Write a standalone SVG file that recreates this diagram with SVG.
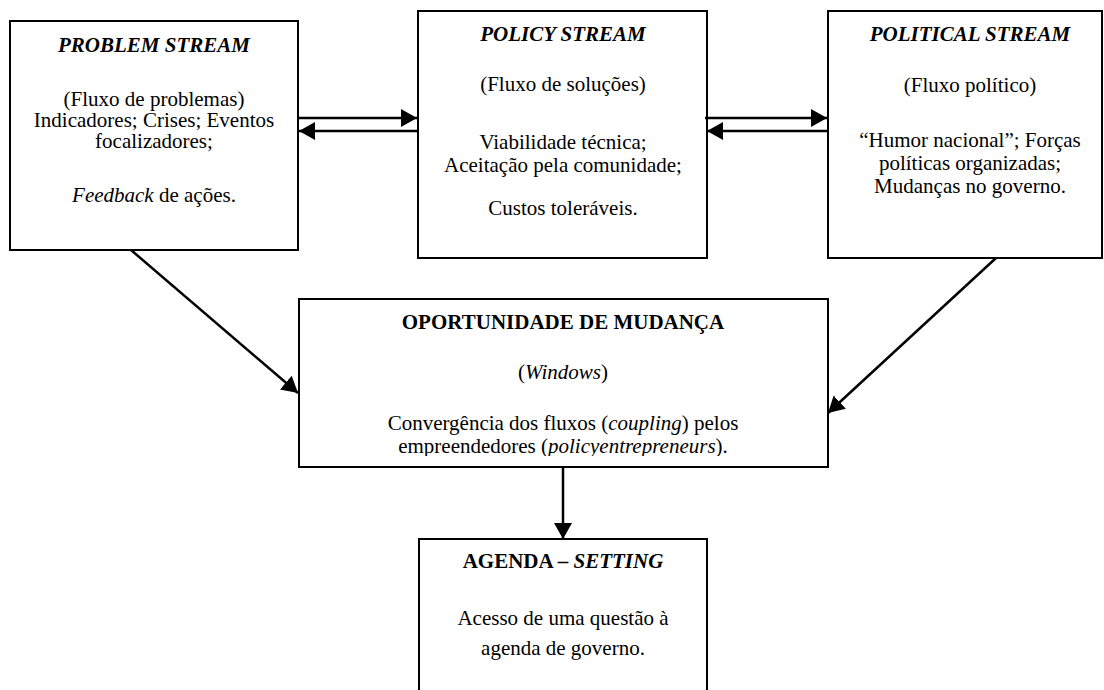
<svg xmlns="http://www.w3.org/2000/svg" width="1104" height="690" viewBox="0 0 1104 690">
<style>
.box{fill:#fff;stroke:#000;stroke-width:2}
.t{font-family:"Liberation Serif","Times New Roman",serif;font-size:21px;fill:#000;text-anchor:middle}
.b{font-weight:bold}
.i{font-style:italic}
.c{stroke:#000;stroke-width:2.5;fill:none;marker-end:url(#ah)}
</style>
<defs>
<marker id="ah" markerUnits="userSpaceOnUse" markerWidth="17" markerHeight="19" refX="16" refY="9" orient="auto">
<path d="M0,0 L16,9 L0,18 Z" fill="#000"/>
</marker>
<clipPath id="clipOpp"><rect x="299" y="299" width="529" height="157"/></clipPath>
</defs>
<rect width="1104" height="690" fill="#fff"/>
<g id="problem">
<rect class="box" x="10" y="21" width="288" height="229"/>
<text class="t b i" x="154" y="52">PROBLEM STREAM</text>
<text class="t" x="154" y="106">(Fluxo de problemas)</text>
<text class="t" x="154" y="127">Indicadores; Crises; Eventos</text>
<text class="t" x="154" y="148">focalizadores;</text>
<text class="t" x="154" y="202"><tspan class="i">Feedback</tspan> de ações.</text>
</g>
<g id="policy">
<rect class="box" x="418" y="11" width="289" height="247"/>
<text class="t b i" x="563" y="41">POLICY STREAM</text>
<text class="t" x="563" y="91">(Fluxo de soluções)</text>
<text class="t" x="563" y="149">Viabilidade técnica;</text>
<text class="t" x="563" y="172">Aceitação pela comunidade;</text>
<text class="t" x="563" y="215">Custos toleráveis.</text>
</g>
<g id="political">
<rect class="box" x="828" y="11" width="274" height="247"/>
<text class="t b i" x="970" y="41">POLITICAL STREAM</text>
<text class="t" x="970" y="92">(Fluxo político)</text>
<text class="t" x="970" y="147">“Humor nacional”; Forças</text>
<text class="t" x="970" y="170">políticas organizadas;</text>
<text class="t" x="970" y="193">Mudanças no governo.</text>
</g>
<g id="opportunity">
<rect class="box" x="299" y="299" width="529" height="168"/>
<g clip-path="url(#clipOpp)">
<text class="t b" x="563" y="329">OPORTUNIDADE DE MUDANÇA</text>
<text class="t" x="563" y="379">(<tspan class="i">Windows</tspan>)</text>
<text class="t" x="563" y="430">Convergência dos fluxos (<tspan class="i">coupling</tspan>) pelos</text>
<text class="t" x="563" y="453">empreendedores (<tspan class="i">policyentrepreneurs</tspan>).</text>
</g>
</g>
<g id="agenda">
<rect class="box" x="419" y="539" width="288" height="160"/>
<text class="t b" x="563" y="568">AGENDA – <tspan class="i">SETTING</tspan></text>
<text class="t" x="563" y="625">Acesso de uma questão à</text>
<text class="t" x="563" y="655">agenda de governo.</text>
</g>
<g id="connectors">
<line class="c" x1="297" y1="118" x2="417" y2="118"/>
<line class="c" x1="418" y1="131" x2="299" y2="131"/>
<line class="c" x1="705" y1="118" x2="827" y2="118"/>
<line class="c" x1="828" y1="131" x2="707" y2="131"/>
<line class="c" x1="131" y1="250" x2="298" y2="393"/>
<line class="c" x1="996" y1="258" x2="828" y2="413"/>
<line class="c" x1="563" y1="467" x2="563" y2="539"/>
</g>
</svg>
